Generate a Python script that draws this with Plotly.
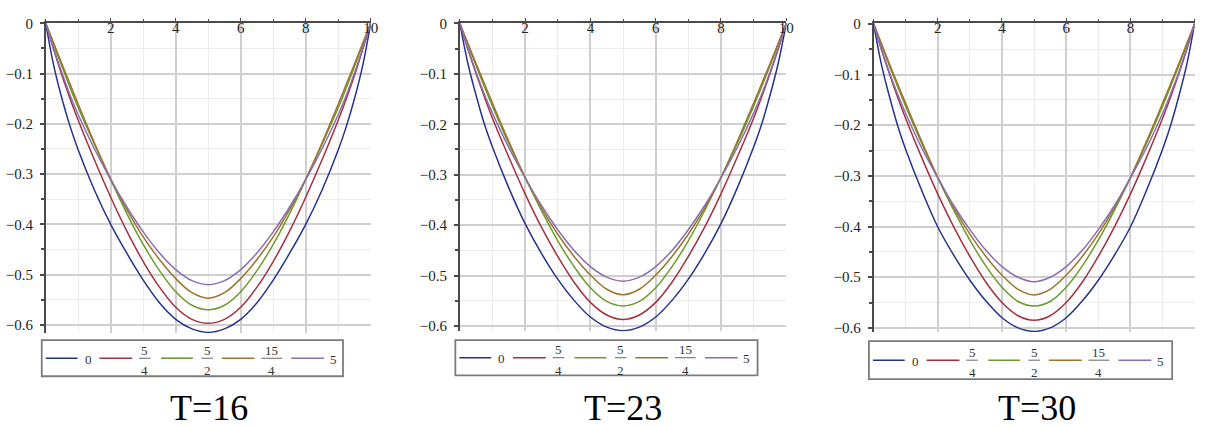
import plotly.graph_objects as go

W, H = 1206, 428

# sample positions along the bar (0..10)
X = [0, 0.25, 0.5, 0.75, 1, 1.5, 2, 2.5, 3, 3.5, 4, 4.5, 5,
     5.5, 6, 6.5, 7, 7.5, 8, 8.5, 9, 9.25, 9.5, 9.75, 10]

series_labels = ["0", "5/4", "5/2", "15/4", "5"]
panel_titles = ["T=16", "T=23", "T=30"]

# T = 16
T16_0 = [0, -0.085, -0.150, -0.205, -0.252, -0.332, -0.400, -0.458, -0.511, -0.556, -0.589, -0.608, -0.615,
         -0.608, -0.589, -0.556, -0.511, -0.458, -0.400, -0.332, -0.252, -0.205, -0.150, -0.085, 0]
T16_54 = [0, -0.053, -0.104, -0.150, -0.193, -0.272, -0.346, -0.414, -0.474, -0.525, -0.565, -0.589, -0.597,
          -0.589, -0.565, -0.525, -0.474, -0.414, -0.346, -0.272, -0.193, -0.150, -0.104, -0.053, 0]
T16_52 = [0, -0.043, -0.086, -0.128, -0.168, -0.241, -0.311, -0.379, -0.440, -0.492, -0.534, -0.561, -0.570,
          -0.561, -0.534, -0.492, -0.440, -0.379, -0.311, -0.241, -0.168, -0.128, -0.086, -0.043, 0]
T16_154 = [0, -0.040, -0.081, -0.121, -0.161, -0.238, -0.310, -0.371, -0.425, -0.470, -0.508, -0.536, -0.547,
           -0.536, -0.508, -0.470, -0.425, -0.371, -0.310, -0.238, -0.161, -0.121, -0.081, -0.040, 0]
T16_5 = [0, -0.051, -0.099, -0.143, -0.182, -0.250, -0.311, -0.366, -0.415, -0.457, -0.490, -0.512, -0.520,
         -0.512, -0.490, -0.457, -0.415, -0.366, -0.311, -0.250, -0.182, -0.143, -0.099, -0.051, 0]

# T = 23
T23_0 = [0, -0.080, -0.143, -0.199, -0.245, -0.326, -0.397, -0.456, -0.507, -0.549, -0.582, -0.602, -0.609,
         -0.602, -0.582, -0.549, -0.507, -0.456, -0.397, -0.326, -0.245, -0.199, -0.143, -0.080, 0]
T23_54 = [0, -0.052, -0.100, -0.145, -0.188, -0.265, -0.338, -0.404, -0.462, -0.513, -0.553, -0.578, -0.587,
          -0.578, -0.553, -0.513, -0.462, -0.404, -0.338, -0.265, -0.188, -0.145, -0.100, -0.052, 0]
T23_52 = [0, -0.042, -0.084, -0.125, -0.164, -0.238, -0.306, -0.371, -0.431, -0.482, -0.524, -0.551, -0.560,
          -0.551, -0.524, -0.482, -0.431, -0.371, -0.306, -0.238, -0.164, -0.125, -0.084, -0.042, 0]
T23_154 = [0, -0.040, -0.080, -0.119, -0.158, -0.234, -0.305, -0.366, -0.418, -0.462, -0.499, -0.527, -0.538,
           -0.527, -0.499, -0.462, -0.418, -0.366, -0.305, -0.234, -0.158, -0.119, -0.080, -0.040, 0]
T23_5 = [0, -0.050, -0.097, -0.140, -0.178, -0.246, -0.306, -0.361, -0.409, -0.450, -0.482, -0.503, -0.511,
         -0.503, -0.482, -0.450, -0.409, -0.361, -0.306, -0.246, -0.178, -0.140, -0.097, -0.050, 0]

# T = 30
T30_0 = [0, -0.082, -0.145, -0.201, -0.248, -0.329, -0.401, -0.457, -0.506, -0.547, -0.580, -0.600, -0.607,
         -0.600, -0.580, -0.547, -0.506, -0.457, -0.401, -0.329, -0.248, -0.201, -0.145, -0.082, 0]
T30_54 = [0, -0.052, -0.100, -0.145, -0.187, -0.264, -0.336, -0.401, -0.459, -0.510, -0.550, -0.576, -0.585,
          -0.576, -0.550, -0.510, -0.459, -0.401, -0.336, -0.264, -0.187, -0.145, -0.100, -0.052, 0]
T30_52 = [0, -0.042, -0.084, -0.124, -0.163, -0.236, -0.304, -0.368, -0.427, -0.478, -0.520, -0.548, -0.557,
          -0.548, -0.520, -0.478, -0.427, -0.368, -0.304, -0.236, -0.163, -0.124, -0.084, -0.042, 0]
T30_154 = [0, -0.040, -0.080, -0.119, -0.157, -0.232, -0.303, -0.363, -0.415, -0.459, -0.496, -0.524, -0.535,
           -0.524, -0.496, -0.459, -0.415, -0.363, -0.303, -0.232, -0.157, -0.119, -0.080, -0.040, 0]
T30_5 = [0, -0.050, -0.097, -0.139, -0.177, -0.245, -0.304, -0.359, -0.406, -0.447, -0.479, -0.500, -0.509,
         -0.500, -0.479, -0.447, -0.406, -0.359, -0.304, -0.245, -0.177, -0.139, -0.097, -0.050, 0]

panels_data = [
    [T16_0, T16_54, T16_52, T16_154, T16_5],
    [T23_0, T23_54, T23_52, T23_154, T23_5],
    [T30_0, T30_54, T30_52, T30_154, T30_5],
]

colors = ["#26338c", "#a2313f", "#6b9b2b", "#9c752d", "#8b6db2"]

# plot-area geometry in pixels: left, right, top, bottom, y minimum
geom = [
    dict(l=46, r=373, t=16, b=335, ymin=-0.617),
    dict(l=462.5, r=791, t=16, b=332.7, ymin=-0.610),
    dict(l=878.7, r=1201.7, t=16.5, b=333.5, ymin=-0.608),
]
# x tick labels; the last panel meets the page edge, so its "10" is left off
x_ticks = [[2, 4, 6, 8, 10], [2, 4, 6, 8, 10], [2, 4, 6, 8]]
# legend boxes: left, top, right, bottom
legend_boxes = [(42, 342, 345, 379), (458, 342, 762, 378), (874, 343, 1179, 382)]
title_centers = [(210, 412), (627, 412), (1043, 412)]

SERIF = "Liberation Serif, Times New Roman, serif"
AXIS_COL = "#4a4a4a"
MAJOR_GRID = "#cfcfcf"
MINOR_GRID = "#ececec"
EPS_Y = 1.5e-3
EPS_X = 4e-3


def fx(p):
    return p / W


def fy(p):
    return 1 - p / H


fig = go.Figure()
layout = dict(
    width=W, height=H, margin=dict(l=0, r=0, t=0, b=0),
    paper_bgcolor="white", plot_bgcolor="white", showlegend=False,
)

for i, (g, data, xt) in enumerate(zip(geom, panels_data, x_ticks), start=1):
    xa = "x" if i == 1 else f"x{i}"
    ya = "y" if i == 1 else f"y{i}"
    for vals, col, name in zip(data, colors, series_labels):
        fig.add_trace(go.Scatter(
            x=X, y=vals, mode="lines", name=name, xaxis=xa, yaxis=ya,
            line=dict(color=col, width=1.5, shape="spline", smoothing=1.0),
            hoverinfo="skip",
        ))
    layout[f"xaxis{'' if i == 1 else i}"] = dict(
        domain=[fx(g["l"]), fx(g["r"])], range=[0, 10 + EPS_X], anchor=ya, side="top",
        showline=True, linecolor=AXIS_COL, linewidth=1.5, mirror=False,
        tickmode="array", tickvals=xt, ticktext=[str(v) for v in xt],
        ticks="outside", ticklen=3, tickcolor=AXIS_COL, tickwidth=1,
        ticklabelposition="inside", ticklabeloverflow="allow",
        tickfont=dict(family=SERIF, size=15, color="#222222"),
        showgrid=True, gridcolor=MAJOR_GRID, gridwidth=1.5, zeroline=False,
        minor=dict(tickmode="linear", tick0=0, dtick=1, showgrid=True, gridcolor=MINOR_GRID,
                   gridwidth=1, ticks="outside", ticklen=2, tickcolor=AXIS_COL),
        fixedrange=True,
    )
    layout[f"yaxis{'' if i == 1 else i}"] = dict(
        domain=[fy(g["b"]), fy(g["t"])], range=[g["ymin"], EPS_Y], anchor=xa, side="left",
        showline=True, linecolor=AXIS_COL, linewidth=1.5,
        tickmode="array", tickvals=[0, -0.1, -0.2, -0.3, -0.4, -0.5, -0.6],
        ticktext=["0", "\u22120.1", "\u22120.2", "\u22120.3", "\u22120.4", "\u22120.5", "\u22120.6"],
        ticks="outside", ticklen=4, tickcolor=AXIS_COL, tickwidth=1.5,
        ticklabelstandoff=4, ticklabeloverflow="allow",
        tickfont=dict(family=SERIF, size=15, color="#222222"),
        showgrid=True, gridcolor=MAJOR_GRID, gridwidth=1.5, zeroline=False,
        minor=dict(tickmode="linear", tick0=0, dtick=0.05, showgrid=True, gridcolor=MINOR_GRID,
                   gridwidth=1, ticks="outside", ticklen=3, tickcolor=AXIS_COL),
        fixedrange=True,
    )

shapes = []
annotations = []

# legend layout, offsets from the left edge of each legend box
sample_spans = [(4, 36), (58, 91), (120, 152), (181, 214), (251, 284)]
label_centers = [46.7, 103.7, 166.3, 231.3, 293.0]
LEG_FONT = dict(family=SERIF, size=13, color="#333333")

for (bl, bt, br, bb) in legend_boxes:
    shapes.append(dict(type="rect", xref="paper", yref="paper",
                       x0=fx(bl), x1=fx(br), y0=fy(bb), y1=fy(bt),
                       line=dict(color="#7c7c7c", width=1.8), fillcolor="white", layer="above"))
    ly = (bt + bb) / 2
    for (s0, s1), lc, col, lab in zip(sample_spans, label_centers, colors, series_labels):
        shapes.append(dict(type="line", xref="paper", yref="paper",
                           x0=fx(bl + s0), x1=fx(bl + s1), y0=fy(ly), y1=fy(ly),
                           line=dict(color=col, width=1.6), layer="above"))
        cx = bl + lc
        if "/" in lab:
            num, den = lab.split("/")
            half = 5.8 if len(num) == 1 else 10.5
            shapes.append(dict(type="line", xref="paper", yref="paper",
                               x0=fx(cx - half), x1=fx(cx + half), y0=fy(ly), y1=fy(ly),
                               line=dict(color="#666666", width=1), layer="above"))
            annotations.append(dict(text=num, xref="paper", yref="paper", x=fx(cx), y=fy(ly - 8.3),
                                    xanchor="center", yanchor="middle", showarrow=False, font=LEG_FONT))
            annotations.append(dict(text=den, xref="paper", yref="paper", x=fx(cx), y=fy(ly + 12.8),
                                    xanchor="center", yanchor="middle", showarrow=False, font=LEG_FONT))
        else:
            annotations.append(dict(text=lab, xref="paper", yref="paper", x=fx(cx), y=fy(ly + 1),
                                    xanchor="center", yanchor="middle", showarrow=False, font=LEG_FONT))

for (tx, ty), title in zip(title_centers, panel_titles):
    annotations.append(dict(text=title, xref="paper", yref="paper", x=fx(tx), y=fy(ty),
                            xanchor="center", yanchor="middle", showarrow=False,
                            font=dict(family=SERIF, size=36, color="black")))

layout["shapes"] = shapes
layout["annotations"] = annotations
fig.update_layout(**layout)
fig.write_html("out.html")
